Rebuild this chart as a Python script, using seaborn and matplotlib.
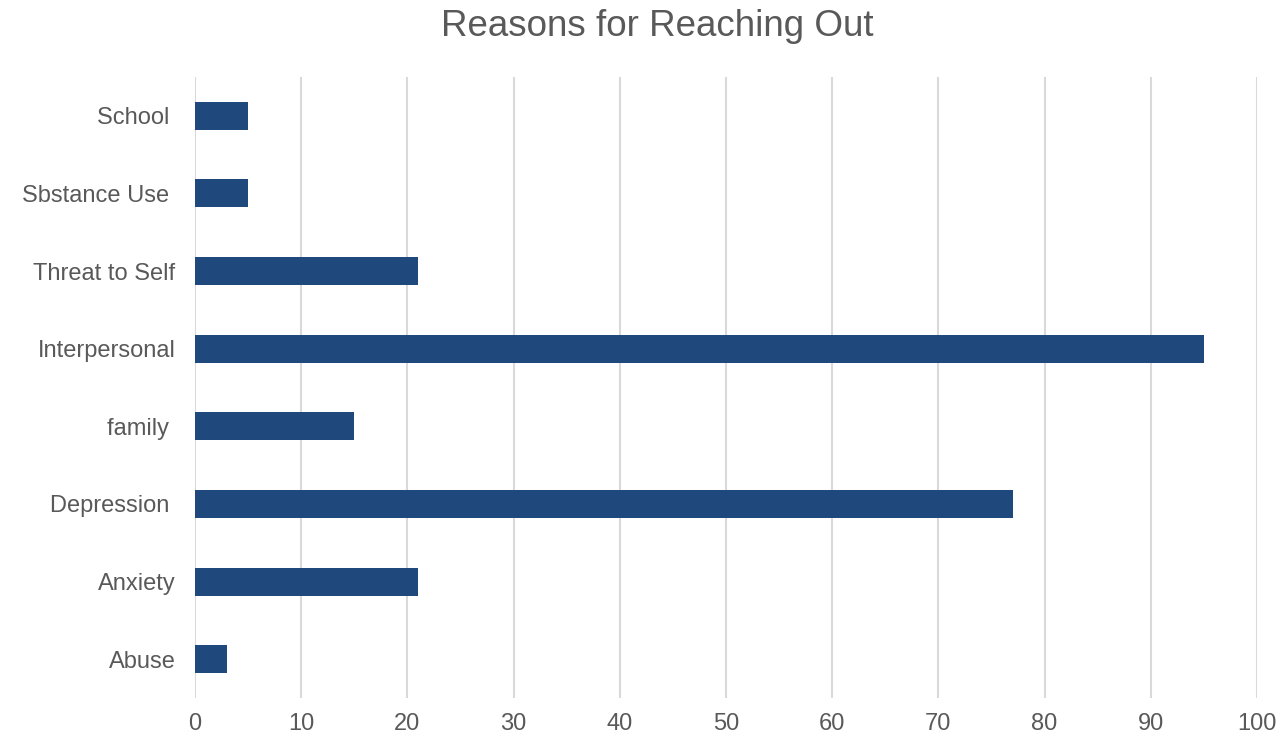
import matplotlib
matplotlib.use("Agg")
import matplotlib.pyplot as plt
import seaborn as sns
import pandas as pd

categories = ["School ", "Sbstance Use ", "Threat to Self", "Interpersonal",
              "family ", "Depression ", "Anxiety", "Abuse"]
values = [5, 5, 21, 95, 15, 77, 21, 3]
x_ticks = [0, 10, 20, 30, 40, 50, 60, 70, 80, 90, 100]

sns.set_theme(style="white")
plt.rcParams["font.family"] = ["Liberation Sans", "DejaVu Sans"]

df = pd.DataFrame({"reason": categories, "count": values})

fig = plt.figure(figsize=(12.81, 7.41), dpi=100)
ax = fig.add_axes([195 / 1281, 1 - 698 / 741, (1257 - 195) / 1281, (698 - 77) / 741])

sns.barplot(data=df, y="reason", x="count", order=categories, orient="h",
            color="#1F497D", saturation=1, width=0.36, linewidth=0,
            ax=ax, zorder=3)

ax.set_xlim(0, 100)
ax.set_xticks(x_ticks)
ax.set_xticklabels([str(t) for t in x_ticks])
ax.xaxis.grid(True, color="#D9D9D9", linewidth=1.5, zorder=0)
ax.set_axisbelow(True)
for s in ax.spines.values():
    s.set_visible(False)
ax.tick_params(axis="both", length=0, colors="#595959", labelsize=17)
ax.tick_params(axis="x", pad=11)
ax.tick_params(axis="y", pad=14)
ax.set_xlabel("")
ax.set_ylabel("")

fig.text(657 / 1281, 1 - 27 / 741, "Reasons for Reaching Out", ha="center", va="center",
         fontsize=26.5, color="#595959")

fig.savefig("out.png", dpi=100, facecolor="white")
